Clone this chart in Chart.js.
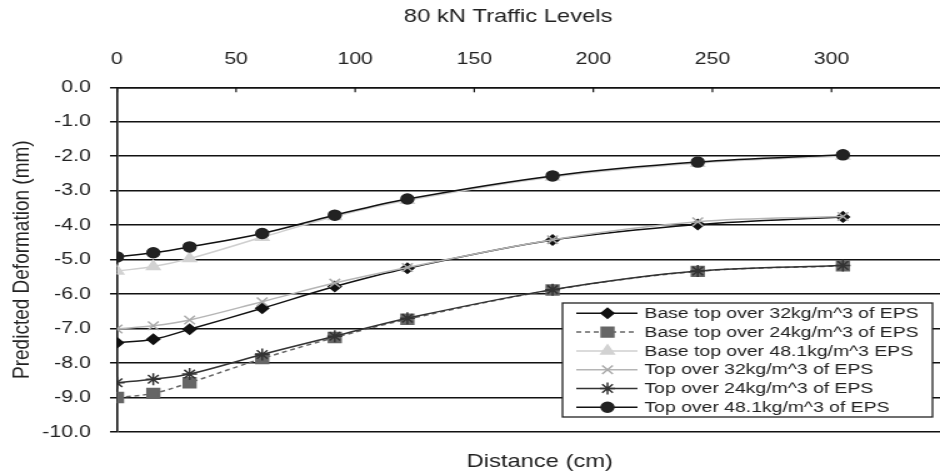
<!DOCTYPE html>
<html>
<head>
<meta charset="utf-8">
<title>80 kN Traffic Levels</title>
<script src="https://cdn.jsdelivr.net/npm/chart.js@4.4.1/dist/chart.umd.min.js"></script>
<style>
  html, body { margin: 0; padding: 0; background: #fff; }
  #frame { width: 940px; height: 475px; overflow: hidden; position: relative; }
  /* the original picture is stretched sideways, so the canvas is too */
  #chart { display: block; transform: scaleX(1.25); transform-origin: 0 0; }
</style>
</head>
<body>
<div id="frame"><canvas id="chart" width="813" height="475"></canvas></div>
<script>
(function () {
  "use strict";

  // distance from the load (cm) - 0, 0.5, 1, 2, 3, 4, 6, 8, 10 ft
  var distances = [0, 15.24, 30.48, 60.96, 91.44, 121.92, 182.88, 243.84, 304.8];

  // predicted deformation (mm)
  var baseTop32 = [-7.41, -7.31, -7.02, -6.41, -5.78, -5.25, -4.43, -3.98, -3.76];
  var baseTop24 = [-9.00, -8.88, -8.57, -7.87, -7.26, -6.73, -5.88, -5.34, -5.18];
  var baseTop48 = [-5.33, -5.20, -4.97, -4.35, -3.75, -3.28, -2.60, -2.20, -1.99];
  var top32 = [-7.01, -6.92, -6.75, -6.22, -5.68, -5.23, -4.42, -3.90, -3.75];
  var top24 = [-8.57, -8.47, -8.32, -7.75, -7.22, -6.70, -5.87, -5.33, -5.17];
  var top48 = [-4.92, -4.80, -4.63, -4.24, -3.71, -3.24, -2.57, -2.17, -1.96];

  var seriesNames = [
    "Base top over 32kg/m^3 of EPS",
    "Base top over 24kg/m^3 of EPS",
    "Base top over 48.1kg/m^3 EPS",
    "Top over 32kg/m^3 of EPS",
    "Top over 24kg/m^3 of EPS",
    "Top over 48.1kg/m^3 of EPS"
  ];

  var xTicks = [0, 50, 100, 150, 200, 250, 300];
  var yTicks = [0, -1, -2, -3, -4, -5, -6, -7, -8, -9, -10];

  var FONT = "'Liberation Sans', Arial, sans-serif";
  var INK = "#111";

  function points(values) {
    return values.map(function (v, i) {
      return { x: distances[i], y: v };
    });
  }

  function series(idx, values, style) {
    return Object.assign({
      label: seriesNames[idx],
      data: points(values),
      borderWidth: 1.5,
      pointBorderWidth: 1.5,
      tension: 0.35,
      fill: false,
      order: seriesNames.length - idx
    }, style);
  }

  var datasets = [
    series(0, baseTop32, {
      borderColor: "#111", pointStyle: "rectRot", pointRadius: 5,
      pointBackgroundColor: "#111", pointBorderColor: "#111"
    }),
    series(1, baseTop24, {
      borderColor: "#666", borderDash: [4, 3], pointStyle: "rect", pointRadius: 7,
      pointBackgroundColor: "#666", pointBorderColor: "#666"
    }),
    series(2, baseTop48, {
      borderColor: "#cfcfcf", pointStyle: "triangle", pointRadius: 6,
      pointBackgroundColor: "#d2d2d2", pointBorderColor: "#d2d2d2"
    }),
    series(3, top32, {
      borderColor: "#b5b5b5", pointStyle: "crossRot", pointRadius: 6,
      pointBackgroundColor: "#aaa", pointBorderColor: "#aaa"
    }),
    series(4, top24, {
      borderColor: "#333", pointStyle: "star", pointRadius: 6,
      pointBackgroundColor: "#333", pointBorderColor: "#333"
    }),
    series(5, top48, {
      borderColor: "#111", pointStyle: "circle", pointRadius: 5,
      pointBackgroundColor: "#222", pointBorderColor: "#222"
    })
  ];

  function marker(ctx, ds, x, y) {
    var opts = { pointStyle: ds.pointStyle, radius: ds.pointRadius, borderWidth: ds.pointBorderWidth, rotation: 0 };
    ctx.fillStyle = ds.pointBackgroundColor;
    ctx.strokeStyle = ds.pointBorderColor;
    ctx.lineWidth = ds.pointBorderWidth;
    ctx.setLineDash([]);
    if (Chart.helpers && Chart.helpers.drawPoint) {
      Chart.helpers.drawPoint(ctx, opts, x, y);
    } else {
      ctx.beginPath();
      ctx.arc(x, y, ds.pointRadius, 0, Math.PI * 2);
      ctx.fill();
    }
  }

  // legend box sitting inside the plot, lower right
  var insideLegend = {
    id: "insideLegend",
    afterDatasetsDraw: function (chart) {
      var ctx = chart.ctx;
      var area = chart.chartArea;
      var w = 296, h = 114, rowH = 18.8;
      var left = area.right - 24 - w;
      var top = area.bottom - 15 - h;
      ctx.save();
      ctx.fillStyle = "#fff";
      ctx.fillRect(left, top, w, h);
      ctx.strokeStyle = "#222";
      ctx.lineWidth = 1.3;
      ctx.strokeRect(left, top, w, h);
      ctx.font = "15.5px " + FONT;
      ctx.textBaseline = "middle";
      ctx.textAlign = "left";
      chart.data.datasets.forEach(function (ds, i) {
        var y = top + 10.3 + i * rowH;
        ctx.strokeStyle = ds.borderColor;
        ctx.lineWidth = ds.borderWidth;
        ctx.setLineDash(ds.borderDash || []);
        ctx.beginPath();
        ctx.moveTo(left + 11, y);
        ctx.lineTo(left + 60, y);
        ctx.stroke();
        marker(ctx, ds, left + 36, y);
        ctx.fillStyle = "#222";
        ctx.fillText(ds.label, left + 65.6, y + 0.5);
      });
      ctx.restore();
    }
  };

  // short tick marks of the top axis point down into the plot
  var innerTicks = {
    id: "innerTicks",
    afterDraw: function (chart) {
      var scale = chart.scales.x;
      var ctx = chart.ctx;
      var top = chart.chartArea.top;
      ctx.save();
      ctx.strokeStyle = INK;
      ctx.lineWidth = 1.2;
      scale.ticks.forEach(function (t) {
        var px = scale.getPixelForValue(t.value);
        ctx.beginPath();
        ctx.moveTo(px, top);
        ctx.lineTo(px, top + 5);
        ctx.stroke();
      });
      ctx.restore();
    }
  };

  new Chart(document.getElementById("chart"), {
    type: "line",
    data: { datasets: datasets },
    plugins: [insideLegend, innerTicks],
    options: {
      responsive: false,
      animation: false,
      devicePixelRatio: 1,
      layout: { padding: 0 },
      plugins: {
        legend: { display: false },
        tooltip: { enabled: false },
        title: {
          display: true,
          text: "80 kN Traffic Levels",
          color: "#222",
          font: { family: FONT, size: 19, weight: "normal" },
          padding: { top: 5.6, bottom: 0 }
        }
      },
      scales: {
        x: {
          type: "linear",
          position: "top",
          min: 0,
          max: 355,
          afterBuildTicks: function (scale) {
            scale.ticks = xTicks.map(function (v) { return { value: v }; });
          },
          afterFit: function (scale) { scale.height = 58.9; },
          grid: { display: true, drawOnChartArea: false, drawTicks: false },
          border: { display: true, color: INK, width: 1.5 },
          ticks: {
            padding: 18,
            color: "#222",
            autoSkip: false,
            maxRotation: 0,
            font: { family: FONT, size: 17 }
          }
        },
        x2: {
          type: "linear",
          position: "bottom",
          min: 0,
          max: 355,
          afterFit: function (scale) { scale.height = 43; },
          grid: { display: false },
          border: { display: false },
          ticks: { display: false },
          title: {
            display: true,
            text: "Distance (cm)",
            color: "#222",
            font: { family: FONT, size: 19 },
            padding: { top: 0, bottom: 2 }
          }
        },
        y: {
          type: "linear",
          min: -10,
          max: 0,
          afterBuildTicks: function (scale) {
            scale.ticks = yTicks.map(function (v) { return { value: v }; });
          },
          afterFit: function (scale) { scale.width = 93.6; },
          grid: { color: INK, lineWidth: 1.5, drawTicks: true, tickLength: 5.6 },
          border: { color: INK, width: 1.6 },
          ticks: {
            padding: 15.4,
            color: "#222",
            font: { family: FONT, size: 17 },
            callback: function (v) { return Number(v).toFixed(1); }
          },
          title: {
            display: true,
            text: "Predicted Deformation (mm)",
            color: "#222",
            font: { family: FONT, size: 19 },
            padding: { top: 6.2, bottom: 0 }
          }
        },
        // empty strip on the right (cropped off in the picture)
        yRight: {
          type: "linear",
          position: "right",
          min: -10,
          max: 0,
          afterFit: function (scale) { scale.width = 43; },
          grid: { display: false },
          border: { display: false },
          ticks: { display: false }
        }
      }
    }
  });
})();
</script>
</body>
</html>
